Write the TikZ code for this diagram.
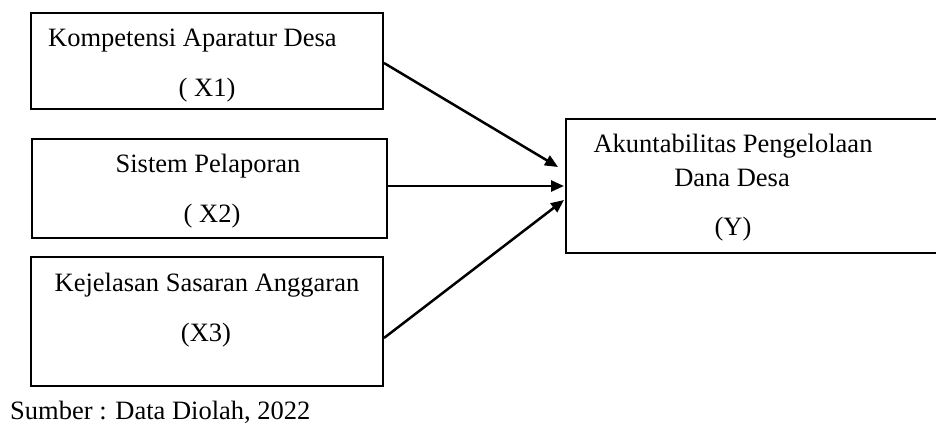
\documentclass[tikz,border=0pt]{standalone}
\usepackage{fontspec}
\setmainfont{Liberation Serif}
\usetikzlibrary{arrows.meta}
\begin{document}
\begin{tikzpicture}[x=1pt,y=-1pt,
  box/.style={draw,line width=2pt,rectangle,inner sep=0pt},
  txt/.style={font=\fontsize{26.5}{30}\selectfont,inner sep=0pt,anchor=base},
  arr/.style={line width=2.5pt,-{Triangle[length=13pt,width=11pt]}}]
\useasboundingbox (0,0) rectangle (936,427);
\clip (0,0) rectangle (936,427);
% boxes
\node[box,minimum width=352pt,minimum height=96pt] (b1) at (207,61) {};
\node[box,minimum width=355pt,minimum height=99pt] (b2) at (209.5,188.5) {};
\node[box,minimum width=352pt,minimum height=129pt] (b3) at (207,321.5) {};
\node[box,minimum width=400pt,minimum height=134pt] (y) at (766,186) {};
% texts
\node[txt,anchor=base west] (t1a) at (48,47) {Kompetensi Aparatur Desa};
\node[txt] (t1b) at (207,97) {( X1)};
\node[txt] (t2a) at (208,173) {Sistem Pelaporan};
\node[txt] (t2b) at (212,223) {( X2)};
\node[txt] (t3a) at (207,291) {Kejelasan Sasaran Anggaran};
\node[txt] (t3b) at (206,341) {(X3)};
\node[txt] (ya) at (733,153) {Akuntabilitas Pengelolaan};
\node[txt] (yb) at (732,187) {Dana Desa};
\node[txt] (yc) at (733,236) {(Y)};
\node[txt,anchor=base west] (src) at (10,419) {Sumber : Data Diolah, 2022};
% arrow tips
\coordinate (p1) at (558,167);
\coordinate (p2) at (564,186);
\coordinate (p3) at (564,200);
\draw[arr] ([yshift=-2pt]b1.east) -- (p1);
\draw[arr] ([yshift=2.5pt]b2.east) -- (p2);
\draw[arr] ([yshift=-16.5pt]b3.east) -- (p3);
\end{tikzpicture}
\end{document}
